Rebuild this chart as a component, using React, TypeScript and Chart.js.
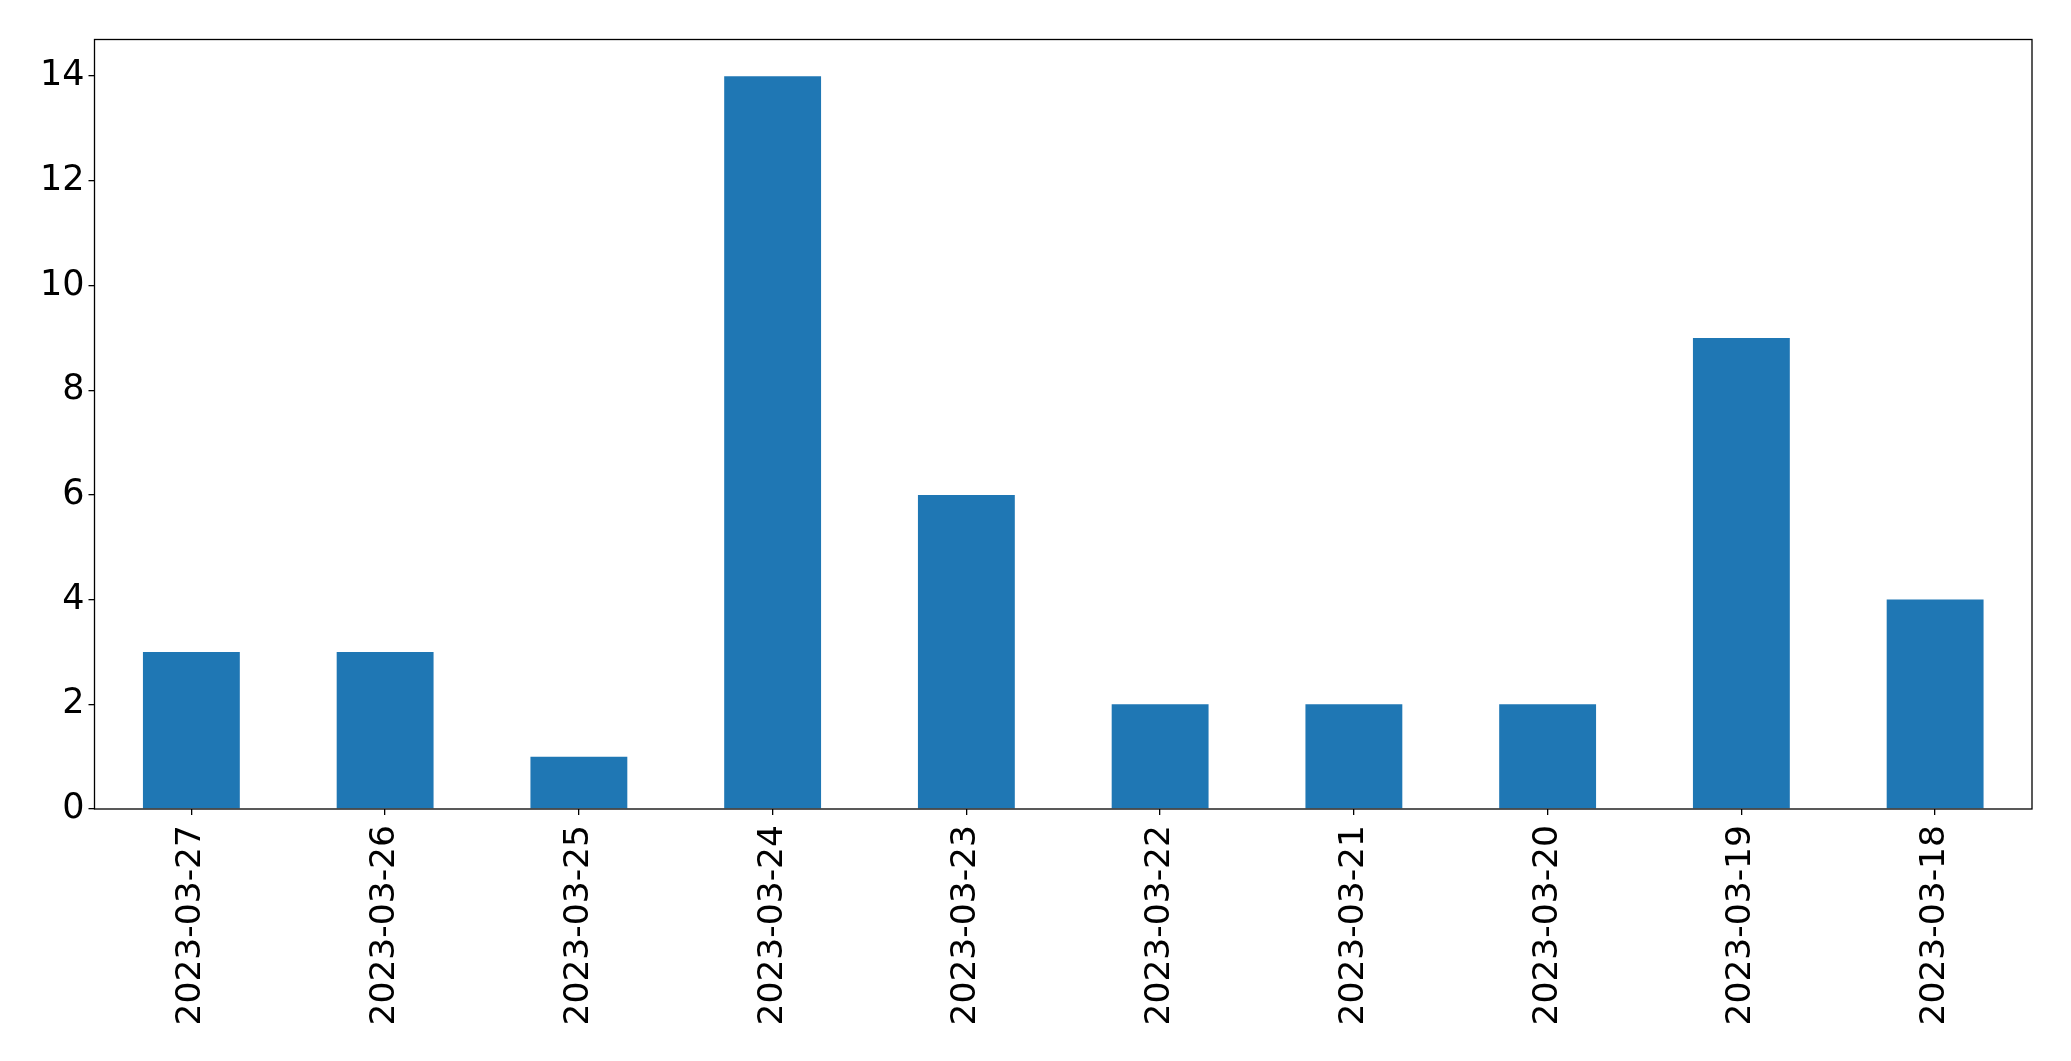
import React, { useEffect, useRef } from "react";
import { Chart, registerables } from "chart.js";

Chart.register(...registerables);

const categories = [
  "2023-03-27",
  "2023-03-26",
  "2023-03-25",
  "2023-03-24",
  "2023-03-23",
  "2023-03-22",
  "2023-03-21",
  "2023-03-20",
  "2023-03-19",
  "2023-03-18",
];
const counts = [3, 3, 1, 14, 6, 2, 2, 2, 9, 4];
const yTickValues = [0, 2, 4, 6, 8, 10, 12, 14];
const yMax = 14.7;

const FONT = "'DejaVu Sans', sans-serif";

const framePlugin = {
  id: "frame",
  afterDatasetsDraw(chart: any) {
    const { ctx, chartArea } = chart;
    ctx.save();
    ctx.strokeStyle = "#000";
    ctx.lineWidth = 1.3;
    ctx.strokeRect(
      chartArea.left,
      chartArea.top,
      chartArea.right - chartArea.left,
      chartArea.bottom - chartArea.top
    );
    ctx.restore();
  },
};

export default function App() {
  const ref = useRef<HTMLCanvasElement | null>(null);

  useEffect(() => {
    if (!ref.current) return;
    const chart = new Chart(ref.current, {
      type: "bar",
      data: {
        labels: categories,
        datasets: [
          {
            data: counts,
            backgroundColor: "#1f77b4",
            borderWidth: 0,
            barPercentage: 0.5,
            categoryPercentage: 1,
          },
        ],
      },
      options: {
        responsive: false,
        animation: false,
        devicePixelRatio: 1,
        layout: { padding: { top: 39.5, right: 39, left: 0, bottom: 0 } },
        plugins: {
          legend: { display: false },
          tooltip: { enabled: false },
        },
        scales: {
          x: {
            offset: true,
            grid: {
              display: true,
              drawOnChartArea: false,
              drawTicks: true,
              tickLength: 6,
              offset: false,
              color: "#000",
              lineWidth: 1.3,
            },
            border: { display: false },
            ticks: {
              autoSkip: false,
              minRotation: 90,
              maxRotation: 90,
              padding: 10,
              color: "#000",
              font: { family: FONT, size: 34.5 },
            },
            afterFit: (s: any) => {
              s.height = 252;
            },
          },
          y: {
            min: 0,
            max: yMax,
            afterBuildTicks: (s: any) => {
              s.ticks = yTickValues.map((v) => ({ value: v }));
            },
            grid: {
              display: true,
              drawOnChartArea: false,
              drawTicks: true,
              tickLength: 6,
              color: "#000",
              lineWidth: 1.3,
            },
            border: { display: false },
            ticks: {
              padding: 4,
              color: "#000",
              font: { family: FONT, size: 35 },
            },
            afterFit: (s: any) => {
              s.width = 94.5;
            },
          },
        },
      },
      plugins: [framePlugin],
    });
    return () => chart.destroy();
  }, []);

  return (
    <div style={{ position: "fixed", left: 0, top: 0, width: 2071, height: 1061, background: "#fff" }}>
      <canvas ref={ref} width={2071} height={1061} style={{ display: "block" }} />
    </div>
  );
}
